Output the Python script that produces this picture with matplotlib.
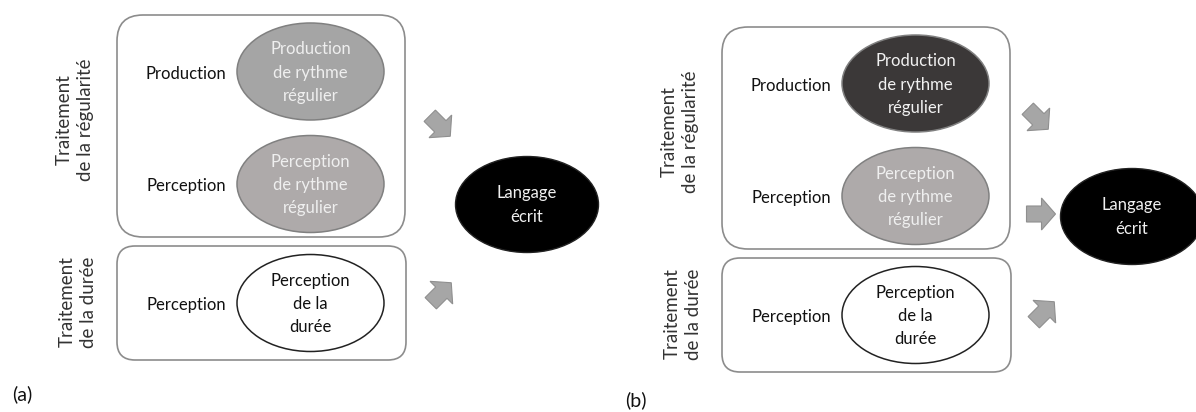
import numpy as np
import matplotlib
matplotlib.use('Agg')
import matplotlib.pyplot as plt
from matplotlib.patches import Ellipse, FancyBboxPatch, Polygon

plt.rcParams['font.family'] = ['Lato', 'DejaVu Sans']

# texts of the diagram
panel_tags = ['(a)', '(b)']
group_titles = ['Traitement\nde la régularité', 'Traitement\nde la durée']
row_labels = ['Production', 'Perception', 'Perception']
node_texts = ['Production\nde rythme\nrégulier',
              'Perception\nde rythme\nrégulier',
              'Perception\nde la\ndurée']
target_text = 'Langage\nécrit'

# fill of the three nodes, per panel
node_fills = [['#a5a5a5', '#aeaaaa', '#ffffff'],
              ['#3b3838', '#aeaaaa', '#ffffff']]
node_text_colors = [['#efefef', '#efefef', '#111111'],
                    ['#f2f2f2', '#efefef', '#111111']]
# arrow directions (degrees, counter-clockwise), per panel
arrow_angles = [[-45, 45], [-45, 0, 45]]

# layout (pixels, y down)
panel_offsets = [(0, 0), (605, 12)]
arrow_pos = [[(440, 126), (441, 293)],
             [(433, 107), (436, 202), (439, 300)]]
node_y = [71.5, 184, 303]


def block_arrow(ax, cx, cy, ang):
    L, sw, hw, hl = 29, 8, 16, 14
    pts = np.array([(-L / 2, -sw), (L / 2 - hl, -sw), (L / 2 - hl, -hw), (L / 2, 0),
                    (L / 2 - hl, hw), (L / 2 - hl, sw), (-L / 2, sw)])
    t = np.radians(ang)
    d = np.array([np.cos(t), -np.sin(t)])
    n = np.array([np.sin(t), np.cos(t)])
    xy = np.array([cx, cy]) + pts[:, :1] * d + pts[:, 1:] * n
    ax.add_patch(Polygon(xy, closed=True, fc='#a6a6a6', ec='#8f8f8f', lw=0.8))


fig = plt.figure(figsize=(11.96, 4.12), dpi=100)
ax = fig.add_axes([0, 0, 1, 1])
ax.set_xlim(0, 1196)
ax.set_ylim(412, 0)
ax.axis('off')

fs = 12
for p in range(2):
    ox, oy = panel_offsets[p]
    # group boxes
    ax.add_patch(FancyBboxPatch((ox + 117, oy + 15), 288, 222,
                                boxstyle='round,pad=0,rounding_size=26',
                                fc='white', ec='#8c8c8c', lw=1.2))
    ax.add_patch(FancyBboxPatch((ox + 117, oy + 246), 289, 114,
                                boxstyle='round,pad=0,rounding_size=18',
                                fc='white', ec='#8c8c8c', lw=1.2))
    # group titles
    ax.text(ox + 75, oy + 120, group_titles[0], rotation=90, ha='center', va='center',
            fontsize=13.5, color='#333333', linespacing=1.3)
    ax.text(ox + 78, oy + 302, group_titles[1], rotation=90, ha='center', va='center',
            fontsize=13.5, color='#333333', linespacing=1.3)
    # rows
    for i in range(3):
        y = oy + node_y[i]
        ax.text(ox + 186, y + 2, row_labels[i], ha='center', va='center',
                fontsize=fs, color='#111111')
        ec = '#222222' if node_fills[p][i] == '#ffffff' else '#808080'
        ax.add_patch(Ellipse((ox + 310.5, y), 147, 97, fc=node_fills[p][i], ec=ec, lw=1.1))
        ax.text(ox + 310.5, y + 1, node_texts[i], ha='center', va='center',
                fontsize=fs, color=node_text_colors[p][i], linespacing=1.55)
    # target
    ax.add_patch(Ellipse((ox + 527, oy + 204.5), 143, 96, fc='black', ec='#222222', lw=1))
    ax.text(ox + 527, oy + 205, target_text, ha='center', va='center',
            fontsize=fs, color='#f0f0f0', linespacing=1.55)
    # arrows
    for (ax_, ay_), ang in zip(arrow_pos[p], arrow_angles[p]):
        block_arrow(ax, ox + ax_, oy + ay_, ang)
    # panel tag
    ax.text(ox + 12 + (0 if p == 0 else 8), oy + 394 + (0 if p == 0 else -6), panel_tags[p],
            ha='left', va='center', fontsize=14, color='#111111')

fig.savefig('out.png', dpi=100, facecolor='white')
